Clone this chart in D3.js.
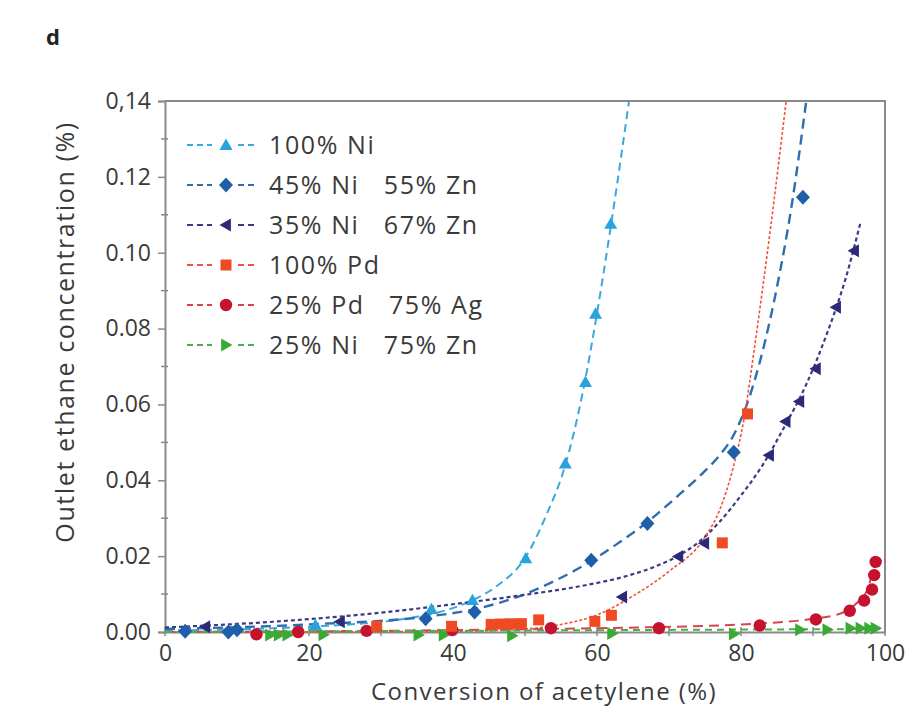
<!DOCTYPE html>
<html>
<head>
<meta charset="utf-8">
<script src="https://cdn.jsdelivr.net/npm/d3@7"></script>
<style>
  html, body { margin: 0; padding: 0; background: #fff; }
  svg { display: block; font-family: "Open Sans", "Noto Sans", sans-serif; }
</style>
</head>
<body>
<svg id="chart" width="912" height="723"></svg>
<script>
// Axis ticks and labels
const xTickValues = [0, 20, 40, 60, 80, 100];
const xMinorTicks = [10, 30, 50, 70, 90];
const yTickValues = [0, 0.02, 0.04, 0.06, 0.08, 0.10, 0.12, 0.14];
const yTickLabels = ["0.00", "0.02", "0.04", "0.06", "0.08", "0.10", "0.12", "0,14"];
const yMinorTicks = [0.01, 0.03, 0.05, 0.07, 0.09, 0.11, 0.13];

// Catalyst compositions
const seriesNames = ["100% Ni", "45% Ni   55% Zn", "35% Ni   67% Zn", "100% Pd", "25% Pd   75% Ag", "25% Ni   75% Zn"];

// Measured points: [conversion %, ethane %]
const ni100Points = [[20.9, 0.0018], [37.0, 0.0060], [42.7, 0.0084], [50.1, 0.0194], [55.6, 0.0444], [58.4, 0.0659], [59.8, 0.0839], [61.9, 0.1076]];
const ni45zn55Points = [[2.8, 0.0002], [8.8, 0.0000], [10.0, 0.0006], [36.2, 0.0035], [43.0, 0.0053], [59.2, 0.0189], [67.0, 0.0286], [79.0, 0.0474], [88.6, 0.1146]];
const ni35zn67Points = [[5.6, 0.0014], [24.3, 0.0027], [63.5, 0.0092], [71.3, 0.0199], [74.9, 0.0234], [83.9, 0.0466], [86.2, 0.0555], [88.1, 0.0608], [90.4, 0.0694], [93.2, 0.0856], [95.7, 0.1005]];
const pd100Points = [[29.4, 0.0015], [39.8, 0.0015], [45.3, 0.0020], [46.6, 0.0021], [48.0, 0.0022], [49.5, 0.0022], [51.9, 0.0032], [59.7, 0.0028], [62.0, 0.0044], [77.4, 0.0235], [80.9, 0.0575]];
const pd25ag75Points = [[12.7, -0.0006], [18.5, 0.0000], [28.0, 0.0003], [39.9, 0.0005], [53.6, 0.0010], [68.6, 0.0010], [82.6, 0.0017], [90.4, 0.0033], [95.1, 0.0056], [97.1, 0.0083], [98.2, 0.0112], [98.5, 0.0150], [98.7, 0.0185]];
const ni25zn75Points = [[14.6, -0.0008], [15.8, -0.0008], [17.0, -0.0008], [22.0, -0.0007], [35.2, -0.0008], [38.7, -0.0008], [48.2, -0.0010], [62.1, -0.0004], [79.0, -0.0005], [88.2, 0.0006], [92.0, 0.0006], [95.2, 0.0010], [96.6, 0.0010], [97.8, 0.0010], [98.7, 0.0010]];

// Fitted trend curves: [conversion %, ethane %]
const ni100Fit = [[0, 0.0004], [20, 0.0014], [35, 0.0040], [42, 0.0078], [46, 0.0120], [50, 0.0195], [53, 0.0310], [55.6, 0.0440], [58, 0.0630], [60, 0.0840], [62, 0.1080], [64.6, 0.1420]];
const ni45zn55Fit = [[0, 0.0008], [20, 0.0020], [36, 0.0040], [43, 0.0060], [50, 0.0100], [55, 0.0143], [59, 0.0185], [63, 0.0235], [67, 0.0290], [71, 0.0355], [75, 0.0425], [77, 0.0465], [79, 0.0520], [81, 0.0610], [83, 0.0740], [85, 0.0910], [87, 0.1120], [89.2, 0.1420]];
const ni35zn67Fit = [[0, 0.0012], [15, 0.0027], [31, 0.0053], [42, 0.0078], [50, 0.0098], [58, 0.0122], [64, 0.0147], [68, 0.0172], [71, 0.0198], [74, 0.0235], [77, 0.0290], [80, 0.0360], [83, 0.0440], [86, 0.0540], [89, 0.0650], [92, 0.0790], [94.5, 0.0930], [96.6, 0.1080]];
const pd100Fit = [[0, 0.0000], [40, 0.0002], [50, 0.0008], [55, 0.0020], [60, 0.0045], [65, 0.0095], [70, 0.0160], [75, 0.0250], [77, 0.0320], [79, 0.0440], [80.4, 0.0560], [81.8, 0.0740], [84, 0.1050], [86.4, 0.1420]];
const pd25ag75Fit = [[0, 0.0000], [40, 0.0005], [60, 0.0010], [80, 0.0020], [90, 0.0035], [94, 0.0050], [96, 0.0075], [97.5, 0.0110], [98.7, 0.0190]];
const ni25zn75Fit = [[0, 0.0000], [100, 0.0008]];

const colors = ["#2aa3dc", "#1f5ea8", "#2c2a78", "#ef4a23", "#c4122f", "#3aaa35"];
const lineColors = ["#3aa7dd", "#2f6cb0", "#3b3a85", "#f0533a", "#d9424f", "#4cb04a"];
const dashes = ["8,5", "10,6", "4,3", "3,2", "10,6", "7,5"];
const lineWidths = [2, 2.4, 2.2, 1.6, 2, 2];
const shapes = ["triUp", "diamond", "triLeft", "square", "circle", "triRight"];

const pointSets = [ni100Points, ni45zn55Points, ni35zn67Points, pd100Points, pd25ag75Points, ni25zn75Points];
const fitSets = [ni100Fit, ni45zn55Fit, ni35zn67Fit, pd100Fit, pd25ag75Fit, ni25zn75Fit];

const svg = d3.select("#chart");
const margin = { left: 165, right: 27, top: 101, bottom: 91 };
const W = 912, H = 723;
const x = d3.scaleLinear().domain([0, 100]).range([margin.left, W - margin.right]);
const y = d3.scaleLinear().domain([0, 0.14]).range([H - margin.bottom, margin.top]);

const axisColor = "#8a8a8a";
const textColor = "#3a3a3a";

// Panel letter
svg.append("text").attr("x", 46).attr("y", 45)
  .attr("font-size", 22).attr("font-weight", "bold").attr("fill", "#222").text("d");

// Plot frame (top and right)
svg.append("path")
  .attr("d", `M${x(0)},${y(0.14)}H${x(100)}V${y(0)}`)
  .attr("fill", "none").attr("stroke", axisColor).attr("stroke-width", 2);

// Axes
const xAxis = d3.axisBottom(x).tickValues(xTickValues).tickSize(0).tickPadding(13).tickFormat(d3.format("d"));
const gx = svg.append("g").attr("transform", `translate(0,${y(0)})`).call(xAxis);
gx.select(".domain").attr("stroke", axisColor).attr("stroke-width", 2);
gx.selectAll("text").attr("font-size", 23).attr("fill", textColor).attr("font-family", "Open Sans, sans-serif");

const allX = xTickValues.concat(xMinorTicks);
svg.append("g").selectAll("line").data(allX).join("line")
  .attr("x1", d => x(d)).attr("x2", d => x(d))
  .attr("y1", y(0) - 5).attr("y2", y(0) + 4)
  .attr("stroke", axisColor).attr("stroke-width", 1.5);

const yAxis = d3.axisLeft(y).tickValues(yTickValues).tickSize(7).tickPadding(7)
  .tickFormat((d, i) => yTickLabels[i]);
const gy = svg.append("g").attr("transform", `translate(${x(0)},0)`).call(yAxis);
gy.select(".domain").attr("stroke", axisColor).attr("stroke-width", 2);
gy.selectAll(".tick line").attr("stroke", axisColor).attr("stroke-width", 1.5);
gy.selectAll("text").attr("font-size", 23).attr("fill", textColor).attr("font-family", "Open Sans, sans-serif");

svg.append("g").selectAll("line").data(yMinorTicks).join("line")
  .attr("x1", x(0) - 4).attr("x2", x(0) + 3)
  .attr("y1", d => y(d)).attr("y2", d => y(d))
  .attr("stroke", axisColor).attr("stroke-width", 1.5);

// Axis titles
svg.append("text")
  .attr("x", 544).attr("y", 700)
  .attr("text-anchor", "middle").attr("font-size", 24).attr("letter-spacing", 1.4).attr("fill", textColor)
  .text("Conversion of acetylene (%)");
svg.append("text")
  .attr("transform", `translate(74,332) rotate(-90)`)
  .attr("text-anchor", "middle").attr("font-size", 25).attr("letter-spacing", 1.6).attr("fill", textColor)
  .text("Outlet ethane concentration (%)");

// Clip region for curves
svg.append("clipPath").attr("id", "plotClip").append("rect")
  .attr("x", x(0)).attr("y", y(0.14) + 1)
  .attr("width", x(100) - x(0)).attr("height", y(0) - y(0.14) + 20);

const line = d3.line().x(d => x(d[0])).y(d => y(d[1])).curve(d3.curveMonotoneX);

function drawMarker(g, shape, cx, cy, color) {
  const s = 6.5;
  let p;
  if (shape === "triUp") p = `M${cx},${cy - s}L${cx + s},${cy + s * 0.75}L${cx - s},${cy + s * 0.75}Z`;
  else if (shape === "triLeft") p = `M${cx - s},${cy}L${cx + s * 0.75},${cy - s}L${cx + s * 0.75},${cy + s}Z`;
  else if (shape === "triRight") p = `M${cx + s},${cy}L${cx - s * 0.75},${cy - s}L${cx - s * 0.75},${cy + s}Z`;
  else if (shape === "diamond") p = `M${cx},${cy - 7.5}L${cx + 7},${cy}L${cx},${cy + 7.5}L${cx - 7},${cy}Z`;
  else if (shape === "square") p = `M${cx - 5.5},${cy - 5.5}h11v11h-11Z`;
  if (shape === "circle") {
    g.append("circle").attr("cx", cx).attr("cy", cy).attr("r", 6.2).attr("fill", color);
  } else {
    g.append("path").attr("d", p).attr("fill", color);
  }
}

// Trend curves
const curves = svg.append("g").attr("clip-path", "url(#plotClip)");
fitSets.forEach((fit, i) => {
  curves.append("path").datum(fit).attr("d", line)
    .attr("fill", "none").attr("stroke", lineColors[i])
    .attr("stroke-width", lineWidths[i]).attr("stroke-dasharray", dashes[i]);
});

// Data markers (green drawn first so others sit on top)
const markers = svg.append("g");
[5, 4, 3, 0, 2, 1].forEach(i => {
  pointSets[i].forEach(d => drawMarker(markers, shapes[i], x(d[0]), y(d[1]), colors[i]));
});

// Legend
const legend = svg.append("g");
const legendTop = 145, legendStep = 40;
seriesNames.forEach((name, i) => {
  const cy = legendTop + i * legendStep;
  legend.append("line").attr("x1", 187).attr("x2", 212).attr("y1", cy).attr("y2", cy)
    .attr("stroke", lineColors[i]).attr("stroke-width", 1.8).attr("stroke-dasharray", "6,4");
  legend.append("line").attr("x1", 238).attr("x2", 257).attr("y1", cy).attr("y2", cy)
    .attr("stroke", lineColors[i]).attr("stroke-width", 1.8).attr("stroke-dasharray", "6,4");
  drawMarker(legend, shapes[i], 226, cy, colors[i]);
  legend.append("text").attr("x", 269).attr("y", cy).attr("dy", "0.36em")
    .attr("font-size", 25).attr("letter-spacing", 1.6).attr("fill", textColor).attr("xml:space", "preserve")
    .style("white-space", "pre").text(name);
});
</script>
</body>
</html>
